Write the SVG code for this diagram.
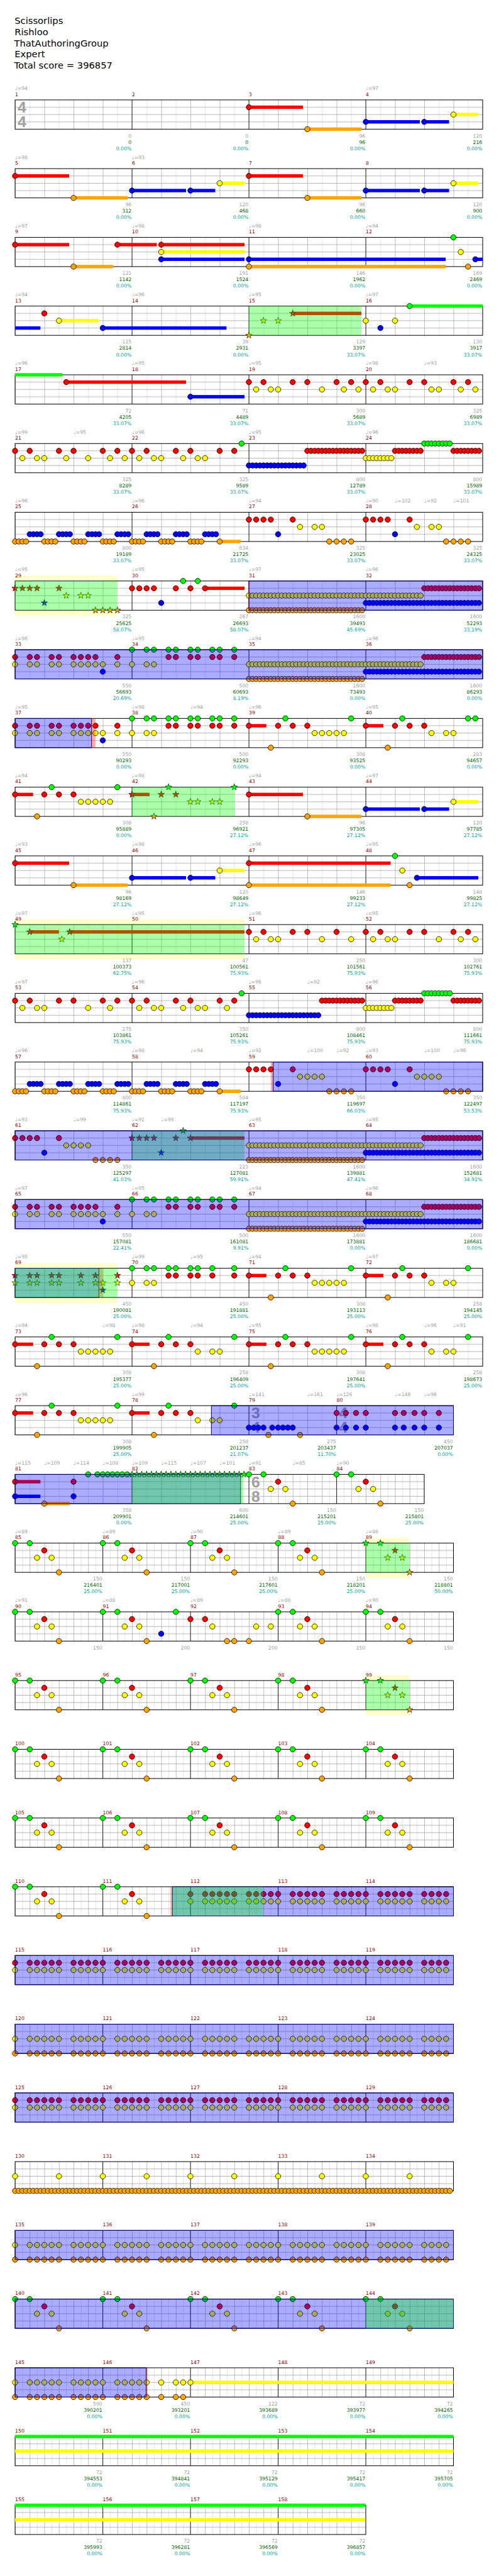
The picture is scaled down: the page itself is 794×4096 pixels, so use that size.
<svg xmlns="http://www.w3.org/2000/svg" width="794" height="4096" viewBox="0 0 794 4096">
<style>
text{font-family:"DejaVu Sans",sans-serif;font-size:10px}
.h{font-size:19px;fill:#000}
.t{fill:#a0a0a0}.m{fill:#8b0000}
.a{fill:#a0a0a0;text-anchor:end}.b{fill:#006400}.c{fill:#00a0a0}
.ts{font-family:"Liberation Sans",sans-serif;font-weight:bold;font-size:32px;fill:#a0a0a0}
.ml{stroke:#000;fill:none}.bd{fill:none;stroke:#000;stroke-width:1.3}
.gO{fill:#00ff00;fill-opacity:.33}
.bO{fill:#0000ff;fill-opacity:.33;stroke:#000070;stroke-width:1.3}
.pk{fill:#ff0000;fill-opacity:.33}
.yl{fill:#ffffcc}
</style>
<defs>
<pattern id="p4" width="60" height="60" patternUnits="userSpaceOnUse"><path d="M30.5 0V60" stroke="#dcdcdc"/><path d="M0 15H60M0 30H60M0 45H60M0.5 0V60" stroke="#a0a0a0"/></pattern>
<pattern id="p8" width="30" height="60" patternUnits="userSpaceOnUse"><path d="M15.5 0V60" stroke="#dcdcdc"/><path d="M0 15H30M0 30H30M0 45H30M0.5 0V60" stroke="#a0a0a0"/></pattern>
<rect id="M4" width="240" height="60" fill="url(#p4)"/>
<rect id="M3" width="180" height="60" fill="url(#p4)"/>
<rect id="M8" width="180" height="60" fill="url(#p8)"/>
<circle id="c" r="5.5" stroke="#000"/>
<use id="G" href="#c" fill="#00ff00"/>
<use id="R" href="#c" y="15" fill="#ff0000"/>
<use id="Y" href="#c" y="30" fill="#ffff00"/>
<use id="B" href="#c" y="45" fill="#0000ff"/>
<use id="O" href="#c" y="60" fill="#ffa500"/>
<polygon id="s" points="0,-7 1.65,-2.27 6.66,-2.16 2.66,0.87 4.11,5.66 0,2.8 -4.11,5.66 -2.66,0.87 -6.66,-2.16 -1.65,-2.27" stroke="#000" stroke-width=".8"/>
<use id="sG" href="#s" fill="#00ff00"/>
<use id="sR" href="#s" y="15" fill="#ff0000"/>
<use id="sY" href="#s" y="30" fill="#ffff00"/>
<use id="sB" href="#s" y="45" fill="#0000ff"/>
<use id="sO" href="#s" y="60" fill="#ffa500"/>
<g id="y4"><use href="#Y"/><use href="#Y" x="7.5"/><use href="#Y" x="15"/><use href="#Y" x="22.5"/></g>
<g id="r4"><use href="#R"/><use href="#R" x="7.5"/><use href="#R" x="15"/><use href="#R" x="22.5"/></g>
<g id="g4"><use href="#G"/><use href="#G" x="7.5"/><use href="#G" x="15"/><use href="#G" x="22.5"/></g>
<g id="b4"><use href="#B"/><use href="#B" x="7.5"/><use href="#B" x="15"/><use href="#B" x="22.5"/></g>
<g id="o4"><use href="#O"/><use href="#O" x="7.5"/><use href="#O" x="15"/><use href="#O" x="22.5"/></g>
<g id="y8"><use href="#y4"/><use href="#y4" x="30"/></g>
<g id="r8"><use href="#r4"/><use href="#r4" x="30"/></g>
<g id="g8"><use href="#g4"/><use href="#g4" x="30"/></g>
<g id="b8"><use href="#b4"/><use href="#b4" x="30"/></g>
<g id="o8"><use href="#o4"/><use href="#o4" x="30"/></g>
<g id="PA"><rect y="11.5" width="111" height="7" fill="#ff0000"/><rect x="120" y="56.5" width="111" height="7" fill="#ffa500"/><rect x="240" y="41.5" width="111" height="7" fill="#0000ff"/><rect x="360" y="41.5" width="51" height="7" fill="#0000ff"/><rect x="420" y="26.5" width="51" height="7" fill="#ffff00"/><use href="#R"/><use href="#O" x="120"/><use href="#B" x="240"/><use href="#B" x="360"/><use href="#Y" x="420"/></g>
<g id="P8"><use href="#G"/><use href="#G" x="30"/><use href="#Y" x="45"/><use href="#Y" x="75"/><use href="#R" x="60"/><use href="#O" x="90"/></g>
<g id="sP8"><use href="#sG"/><use href="#sG" x="30"/><use href="#sY" x="45"/><use href="#sY" x="75"/><use href="#sR" x="60"/><use href="#sO" x="90"/></g>
<g id="CH"><use href="#Y"/><use href="#Y" x="30"/><use href="#Y" x="45"/><use href="#Y" x="60"/><use href="#Y" x="75"/><use href="#Y" x="90"/><use href="#Y" x="120"/><use href="#Y" x="135"/><use href="#Y" x="150"/><use href="#Y" x="165"/><use href="#O"/><use href="#O" x="30"/><use href="#O" x="45"/><use href="#O" x="60"/><use href="#O" x="75"/><use href="#O" x="90"/><use href="#O" x="120"/><use href="#O" x="135"/><use href="#O" x="150"/><use href="#O" x="165"/></g>
<g id="CR"><use href="#R"/><use href="#R" x="30"/><use href="#R" x="45"/><use href="#R" x="60"/><use href="#R" x="75"/><use href="#R" x="90"/><use href="#R" x="120"/><use href="#R" x="135"/><use href="#R" x="150"/><use href="#R" x="165"/><use href="#Y"/><use href="#Y" x="30"/><use href="#Y" x="45"/><use href="#Y" x="60"/><use href="#Y" x="75"/><use href="#Y" x="90"/><use href="#Y" x="120"/><use href="#Y" x="135"/><use href="#Y" x="150"/><use href="#Y" x="165"/></g>
<g id="RUNS"><use href="#y8" x="511"/><use href="#y8" x="571"/><use href="#y8" x="631"/><use href="#y8" x="691"/><use href="#y8" x="751"/><use href="#y8" x="811"/><use href="#o8" x="511"/><use href="#o8" x="571"/><use href="#o8" x="631"/><use href="#o8" x="691"/><use href="#b8" x="751"/><use href="#b8" x="811"/><use href="#b8" x="871"/><use href="#b8" x="931"/><use href="#r8" x="871"/><use href="#r8" x="931"/></g>
<g id="P33"><use href="#R" x="31"/><use href="#R" x="61"/><use href="#R" x="76"/><use href="#R" x="106"/><use href="#R" x="121"/><use href="#R" x="151"/><use href="#R" x="166"/><use href="#R" x="181"/><use href="#R" x="196"/><use href="#R" x="241"/><use href="#R" x="346"/><use href="#R" x="361"/><use href="#R" x="391"/><use href="#R" x="406"/><use href="#R" x="436"/><use href="#R" x="451"/><use href="#R" x="481"/><use href="#Y" x="31"/><use href="#Y" x="61"/><use href="#Y" x="76"/><use href="#Y" x="106"/><use href="#Y" x="121"/><use href="#Y" x="151"/><use href="#Y" x="166"/><use href="#Y" x="181"/><use href="#Y" x="196"/><use href="#Y" x="211"/><use href="#Y" x="241"/><use href="#Y" x="271"/><use href="#Y" x="301"/><use href="#Y" x="316"/><use href="#B" x="211"/><use href="#G" x="271"/><use href="#G" x="301"/><use href="#G" x="316"/><use href="#G" x="346"/><use href="#G" x="361"/><use href="#G" x="391"/><use href="#G" x="406"/><use href="#G" x="436"/><use href="#G" x="451"/><use href="#G" x="481"/></g>
<g id="OB"><use href="#o4" x="31"/><use href="#o4" x="91"/><use href="#o4" x="151"/><use href="#o4" x="211"/><use href="#o4" x="271"/><use href="#o4" x="331"/><use href="#o4" x="391"/><use href="#b4" x="61"/><use href="#b4" x="121"/><use href="#b4" x="181"/><use href="#b4" x="241"/><use href="#b4" x="301"/><use href="#b4" x="361"/><use href="#b4" x="421"/><rect x="451" y="56.5" width="43" height="7" fill="#ffa500"/><use href="#O" x="451"/></g>
<g id="G44"><use href="#M4" x="31"/><use href="#M4" x="271"/><use href="#M4" x="511"/><use href="#M4" x="751"/><path class="ml" d="M271 0V60M511 0V60M751 0V60"/></g>
<g id="G88"><use href="#M8" x="31"/><use href="#M8" x="211"/><use href="#M8" x="391"/><use href="#M8" x="571"/><use href="#M8" x="751"/><path class="ml" d="M211 0V60M391 0V60M571 0V60M751 0V60"/></g>
</defs>
<rect width="794" height="4096" fill="#fff"/>
<g transform="scale(0.775)">
<g id="header">
<text class="h" x="30" y="49">Scissorlips</text>
<text class="h" x="30" y="72">Rishloo</text>
<text class="h" x="29" y="95">ThatAuthoringGroup</text>
<text class="h" x="30" y="118">Expert</text>
<text class="h" x="29" y="141">Total score = 396857</text>
</g>

<g id="row1" transform="translate(0,205)">
<use href="#G44"/><rect class="bd" x="31" width="960" height="60"/>
<text class="ts" x="36" y="26">4</text><text class="ts" x="36" y="56">4</text>
<use href="#PA" x="511"/>
<text class="t" x="31" y="-20">♩=94</text><text class="t" x="751" y="-20">♩=97</text>
<text class="m" x="31" y="-8">1</text><text class="m" x="271" y="-8">2</text><text class="m" x="511" y="-8">3</text><text class="m" x="751" y="-8">4</text>
<text class="a" x="270" y="77">0<tspan class="b" x="270" dy="13">0</tspan><tspan class="c" x="270" dy="13">0.00%</tspan></text>
<text class="a" x="510" y="77">0<tspan class="b" x="510" dy="13">0</tspan><tspan class="c" x="510" dy="13">0.00%</tspan></text>
<text class="a" x="750" y="77">96<tspan class="b" x="750" dy="13">96</tspan><tspan class="c" x="750" dy="13">0.00%</tspan></text>
<text class="a" x="990" y="77">120<tspan class="b" x="990" dy="13">216</tspan><tspan class="c" x="990" dy="13">0.00%</tspan></text>
</g>

<g id="row2" transform="translate(0,346)">
<use href="#G44"/><rect class="bd" x="31" width="960" height="60"/>
<use href="#PA" x="31"/><use href="#PA" x="511"/>
<text class="t" x="31" y="-20">♩=98</text><text class="t" x="271" y="-20">♩=93</text>
<text class="m" x="31" y="-8">5</text><text class="m" x="271" y="-8">6</text><text class="m" x="511" y="-8">7</text><text class="m" x="751" y="-8">8</text>
<text class="a" x="270" y="77">96<tspan class="b" x="270" dy="13">312</tspan><tspan class="c" x="270" dy="13">0.00%</tspan></text>
<text class="a" x="510" y="77">120<tspan class="b" x="510" dy="13">468</tspan><tspan class="c" x="510" dy="13">0.00%</tspan></text>
<text class="a" x="750" y="77">96<tspan class="b" x="750" dy="13">660</tspan><tspan class="c" x="750" dy="13">0.00%</tspan></text>
<text class="a" x="990" y="77">120<tspan class="b" x="990" dy="13">900</tspan><tspan class="c" x="990" dy="13">0.00%</tspan></text>
</g>

<g id="row3" transform="translate(0,487)">
<use href="#G44"/><rect class="bd" x="31" width="960" height="60"/>
<rect x="31" y="11.5" width="111" height="7" fill="#ff0000"/><rect x="151" y="56.5" width="81" height="7" fill="#ffa500"/><rect x="241" y="11.5" width="81" height="7" fill="#ff0000"/><rect x="331" y="11.5" width="171" height="7" fill="#ff0000"/><rect x="331" y="26.5" width="171" height="7" fill="#ffff00"/><rect x="331" y="41.5" width="171" height="7" fill="#0000ff"/><rect x="511" y="41.5" width="404" height="7" fill="#0000ff"/><rect x="511" y="56.5" width="404" height="7" fill="#ffa500"/><rect x="975" y="41.5" width="16" height="7" fill="#0000ff"/>
<use href="#R" x="31"/><use href="#O" x="151"/><use href="#R" x="241"/><use href="#R" x="331"/><use href="#Y" x="331"/><use href="#B" x="331"/><use href="#B" x="511"/><use href="#O" x="511"/><use href="#G" x="931"/><use href="#Y" x="946"/><use href="#O" x="961"/><use href="#B" x="976"/>
<text class="t" x="31" y="-20">♩=97</text><text class="t" x="271" y="-20">♩=98</text><text class="t" x="511" y="-20">♩=98</text><text class="t" x="751" y="-20">♩=94</text>
<text class="m" x="31" y="-8">9</text><text class="m" x="271" y="-8">10</text><text class="m" x="511" y="-8">11</text><text class="m" x="751" y="-8">12</text>
<text class="a" x="270" y="77">121<tspan class="b" x="270" dy="13">1142</tspan><tspan class="c" x="270" dy="13">0.00%</tspan></text>
<text class="a" x="510" y="77">191<tspan class="b" x="510" dy="13">1524</tspan><tspan class="c" x="510" dy="13">0.00%</tspan></text>
<text class="a" x="750" y="77">146<tspan class="b" x="750" dy="13">1962</tspan><tspan class="c" x="750" dy="13">0.00%</tspan></text>
<text class="a" x="990" y="77">169<tspan class="b" x="990" dy="13">2469</tspan><tspan class="c" x="990" dy="13">0.00%</tspan></text>
</g>

<g id="row4" transform="translate(0,628)">
<use href="#G44"/><rect class="bd" x="31" width="960" height="60"/>
<rect x="31" y="41.5" width="52" height="7" fill="#0000ff"/><rect x="121" y="26.5" width="82" height="7" fill="#ffff00"/><rect x="211" y="41.5" width="254" height="7" fill="#0000ff"/><rect x="601" y="11.5" width="141" height="7" fill="#ff0000"/><rect x="841" y="-3.5" width="150" height="7" fill="#00ff00"/>
<use href="#R" x="91"/><use href="#Y" x="121"/><use href="#B" x="211"/><use href="#sO" x="511"/><use href="#sY" x="541"/><use href="#sY" x="571"/><use href="#sR" x="601"/><use href="#Y" x="751"/><use href="#B" x="781"/><use href="#Y" x="811"/><use href="#G" x="841"/>
<rect class="gO" x="511" width="231" height="60"/>
<text class="t" x="31" y="-20">♩=94</text><text class="t" x="271" y="-20">♩=96</text><text class="t" x="511" y="-20">♩=95</text><text class="t" x="751" y="-20">♩=97</text>
<text class="m" x="31" y="-8">13</text><text class="m" x="271" y="-8">14</text><text class="m" x="511" y="-8">15</text><text class="m" x="751" y="-8">16</text>
<text class="a" x="270" y="77">115<tspan class="b" x="270" dy="13">2814</tspan><tspan class="c" x="270" dy="13">0.00%</tspan></text>
<text class="a" x="510" y="77">39<tspan class="b" x="510" dy="13">2931</tspan><tspan class="c" x="510" dy="13">0.00%</tspan></text>
<text class="a" x="750" y="77">129<tspan class="b" x="750" dy="13">3397</tspan><tspan class="c" x="750" dy="13">33.07%</tspan></text>
<text class="a" x="990" y="77">130<tspan class="b" x="990" dy="13">3917</tspan><tspan class="c" x="990" dy="13">33.07%</tspan></text>
</g>

<g id="row5" transform="translate(0,769)">
<use href="#G44"/><rect class="bd" x="31" width="960" height="60"/>
<rect x="31" y="-3.5" width="97" height="7" fill="#00ff00"/><rect x="136" y="11.5" width="246" height="7" fill="#ff0000"/><rect x="391" y="41.5" width="111" height="7" fill="#0000ff"/>
<use href="#R" x="136"/><use href="#B" x="391"/>
<use href="#R" x="511"/><use href="#R" x="541"/><use href="#R" x="601"/><use href="#R" x="631"/><use href="#R" x="691"/><use href="#R" x="721"/><use href="#R" x="751"/><use href="#R" x="781"/><use href="#R" x="841"/><use href="#R" x="871"/><use href="#R" x="931"/><use href="#R" x="961"/>
<use href="#Y" x="526"/><use href="#Y" x="556"/><use href="#Y" x="571"/><use href="#Y" x="661"/><use href="#Y" x="706"/><use href="#Y" x="736"/><use href="#Y" x="766"/><use href="#Y" x="796"/><use href="#Y" x="811"/><use href="#Y" x="886"/><use href="#Y" x="901"/><use href="#Y" x="946"/><use href="#Y" x="976"/>
<text class="t" x="31" y="-20">♩=96</text><text class="t" x="271" y="-20">♩=95</text><text class="t" x="511" y="-20">♩=95</text><text class="t" x="751" y="-20">♩=98</text><text class="t" x="871" y="-20">♩=93</text>
<text class="m" x="31" y="-8">17</text><text class="m" x="271" y="-8">18</text><text class="m" x="511" y="-8">19</text><text class="m" x="751" y="-8">20</text>
<text class="a" x="270" y="77">72<tspan class="b" x="270" dy="13">4205</tspan><tspan class="c" x="270" dy="13">33.07%</tspan></text>
<text class="a" x="510" y="77">71<tspan class="b" x="510" dy="13">4489</tspan><tspan class="c" x="510" dy="13">33.07%</tspan></text>
<text class="a" x="750" y="77">300<tspan class="b" x="750" dy="13">5689</tspan><tspan class="c" x="750" dy="13">33.07%</tspan></text>
<text class="a" x="990" y="77">325<tspan class="b" x="990" dy="13">6989</tspan><tspan class="c" x="990" dy="13">33.07%</tspan></text>
</g>

<g id="row6" transform="translate(0,910)">
<use href="#G44"/><rect class="bd" x="31" width="960" height="60"/>
<use href="#R" x="31"/><use href="#R" x="61"/><use href="#R" x="121"/><use href="#R" x="151"/><use href="#R" x="211"/><use href="#R" x="241"/><use href="#R" x="271"/><use href="#R" x="301"/><use href="#R" x="361"/><use href="#R" x="391"/><use href="#R" x="451"/><use href="#R" x="481"/>
<use href="#Y" x="46"/><use href="#Y" x="76"/><use href="#Y" x="91"/><use href="#Y" x="136"/><use href="#Y" x="181"/><use href="#Y" x="226"/><use href="#Y" x="256"/><use href="#Y" x="286"/><use href="#Y" x="316"/><use href="#Y" x="331"/><use href="#Y" x="376"/><use href="#Y" x="406"/><use href="#Y" x="421"/><use href="#G" x="496"/>
<use href="#b8" x="511"/><use href="#b8" x="571"/><use href="#r8" x="631"/><use href="#r8" x="691"/><use href="#y8" x="751"/><use href="#r8" x="811"/><use href="#g8" x="871"/><use href="#r8" x="931"/>
<text class="t" x="31" y="-20">♩=99</text><text class="t" x="151" y="-20">♩=95</text><text class="t" x="271" y="-20">♩=96</text><text class="t" x="511" y="-20">♩=95</text><text class="t" x="751" y="-20">♩=96</text>
<text class="m" x="31" y="-8">21</text><text class="m" x="271" y="-8">22</text><text class="m" x="511" y="-8">23</text><text class="m" x="751" y="-8">24</text>
<text class="a" x="270" y="77">325<tspan class="b" x="270" dy="13">8289</tspan><tspan class="c" x="270" dy="13">33.07%</tspan></text>
<text class="a" x="510" y="77">325<tspan class="b" x="510" dy="13">9589</tspan><tspan class="c" x="510" dy="13">33.07%</tspan></text>
<text class="a" x="750" y="77">800<tspan class="b" x="750" dy="13">12789</tspan><tspan class="c" x="750" dy="13">33.07%</tspan></text>
<text class="a" x="990" y="77">800<tspan class="b" x="990" dy="13">15989</tspan><tspan class="c" x="990" dy="13">33.07%</tspan></text>
</g>

<g id="row7" transform="translate(0,1051)">
<use href="#G44"/><rect class="bd" x="31" width="960" height="60"/>
<use href="#OB"/>
<use href="#R" x="511"/><use href="#R" x="526"/><use href="#R" x="541"/><use href="#R" x="556"/><use href="#R" x="601"/><use href="#B" x="571"/><use href="#Y" x="616"/><use href="#Y" x="646"/><use href="#Y" x="661"/><use href="#O" x="676"/><use href="#O" x="691"/><use href="#O" x="706"/><use href="#O" x="721"/>
<use href="#R" x="751"/><use href="#R" x="766"/><use href="#R" x="781"/><use href="#R" x="796"/><use href="#R" x="841"/><use href="#B" x="811"/><use href="#Y" x="856"/><use href="#Y" x="886"/><use href="#Y" x="901"/><use href="#O" x="916"/><use href="#O" x="931"/><use href="#O" x="946"/><use href="#O" x="961"/>
<text class="t" x="31" y="-20">♩=96</text><text class="t" x="271" y="-20">♩=96</text><text class="t" x="511" y="-20">♩=94</text><text class="t" x="751" y="-20">♩=90</text><text class="t" x="811" y="-20">♩=102</text><text class="t" x="871" y="-20">♩=92</text><text class="t" x="931" y="-20">♩=101</text>
<text class="m" x="31" y="-8">25</text><text class="m" x="271" y="-8">26</text><text class="m" x="511" y="-8">27</text><text class="m" x="751" y="-8">28</text>
<text class="a" x="270" y="77">800<tspan class="b" x="270" dy="13">19189</tspan><tspan class="c" x="270" dy="13">33.07%</tspan></text>
<text class="a" x="510" y="77">634<tspan class="b" x="510" dy="13">21725</tspan><tspan class="c" x="510" dy="13">33.07%</tspan></text>
<text class="a" x="750" y="77">325<tspan class="b" x="750" dy="13">23025</tspan><tspan class="c" x="750" dy="13">33.07%</tspan></text>
<text class="a" x="990" y="77">325<tspan class="b" x="990" dy="13">24325</tspan><tspan class="c" x="990" dy="13">33.07%</tspan></text>
</g>

<g id="row8" transform="translate(0,1192)">
<rect class="yl" x="31" y="-11" width="210" height="11"/><rect class="yl" x="31" y="61" width="210" height="11"/>
<use href="#G44"/><rect class="bd" x="31" width="960" height="60"/>
<use href="#sR" x="31"/><use href="#sR" x="46"/><use href="#sR" x="61"/><use href="#sR" x="76"/><use href="#sR" x="121"/><use href="#sB" x="91"/><use href="#sY" x="136"/><use href="#sY" x="166"/><use href="#sY" x="181"/><use href="#sO" x="196"/><use href="#sO" x="211"/><use href="#sO" x="226"/><use href="#sO" x="241"/>
<rect class="gO" x="31" width="210" height="60"/>
<rect x="421" y="11.5" width="81" height="7" fill="#ff0000"/>
<use href="#R" x="271"/><use href="#R" x="286"/><use href="#R" x="301"/><use href="#R" x="316"/><use href="#R" x="361"/><use href="#R" x="391"/><use href="#R" x="421"/><use href="#G" x="376"/><use href="#G" x="406"/><use href="#B" x="331"/>
<use href="#RUNS"/>
<rect class="bO" x="511" width="480" height="60"/><rect class="pk" x="510" width="2.5" height="60"/>
<text class="t" x="31" y="-20">♩=95</text><text class="t" x="271" y="-20">♩=95</text><text class="t" x="511" y="-20">♩=97</text><text class="t" x="751" y="-20">♩=96</text>
<text class="m" x="31" y="-8">29</text><text class="m" x="271" y="-8">30</text><text class="m" x="511" y="-8">31</text><text class="m" x="751" y="-8">32</text>
<text class="a" x="270" y="77">325<tspan class="b" x="270" dy="13">25625</tspan><tspan class="c" x="270" dy="13">58.07%</tspan></text>
<text class="a" x="510" y="77">267<tspan class="b" x="510" dy="13">26693</tspan><tspan class="c" x="510" dy="13">58.07%</tspan></text>
<text class="a" x="750" y="77">1600<tspan class="b" x="750" dy="13">39493</tspan><tspan class="c" x="750" dy="13">45.69%</tspan></text>
<text class="a" x="990" y="77">1600<tspan class="b" x="990" dy="13">52293</tspan><tspan class="c" x="990" dy="13">33.19%</tspan></text>
</g>

<g id="row9" transform="translate(0,1333)">
<use href="#G44"/><rect class="bd" x="31" width="960" height="60"/>
<use href="#P33"/><use href="#RUNS"/>
<rect class="bO" x="31" width="960" height="60"/>
<text class="t" x="31" y="-20">♩=96</text><text class="t" x="271" y="-20">♩=95</text><text class="t" x="511" y="-20">♩=94</text><text class="t" x="751" y="-20">♩=96</text>
<text class="m" x="31" y="-8">33</text><text class="m" x="271" y="-8">34</text><text class="m" x="511" y="-8">35</text><text class="m" x="751" y="-8">36</text>
<text class="a" x="270" y="77">550<tspan class="b" x="270" dy="13">56693</tspan><tspan class="c" x="270" dy="13">20.69%</tspan></text>
<text class="a" x="510" y="77">500<tspan class="b" x="510" dy="13">60693</tspan><tspan class="c" x="510" dy="13">8.19%</tspan></text>
<text class="a" x="750" y="77">1600<tspan class="b" x="750" dy="13">73493</tspan><tspan class="c" x="750" dy="13">0.00%</tspan></text>
<text class="a" x="990" y="77">1600<tspan class="b" x="990" dy="13">86293</tspan><tspan class="c" x="990" dy="13">0.00%</tspan></text>
</g>

<g id="row10" transform="translate(0,1474)">
<use href="#G44"/><rect class="bd" x="31" width="960" height="60"/>
<use href="#P33"/>
<rect x="511" y="11.5" width="36" height="7" fill="#ff0000"/><rect x="751" y="11.5" width="36" height="7" fill="#ff0000"/>
<use href="#R" x="511"/><use href="#O" x="556"/><use href="#R" x="571"/><use href="#R" x="601"/><use href="#R" x="631"/><use href="#G" x="586"/><use href="#Y" x="646"/><use href="#Y" x="661"/><use href="#Y" x="676"/><use href="#Y" x="691"/><use href="#Y" x="706"/><use href="#G" x="721"/>
<use href="#R" x="751"/><use href="#O" x="796"/><use href="#R" x="811"/><use href="#R" x="841"/><use href="#R" x="871"/><use href="#G" x="826"/><use href="#Y" x="886"/><use href="#Y" x="916"/><use href="#Y" x="931"/><use href="#G" x="961"/><use href="#G" x="976"/>
<rect class="bO" x="31" width="157" height="60"/><rect class="pk" x="188" width="8" height="60"/>
<text class="t" x="31" y="-20">♩=95</text><text class="t" x="271" y="-20">♩=98</text><text class="t" x="391" y="-20">♩=94</text><text class="t" x="511" y="-20">♩=96</text><text class="t" x="751" y="-20">♩=95</text>
<text class="m" x="31" y="-8">37</text><text class="m" x="271" y="-8">38</text><text class="m" x="511" y="-8">39</text><text class="m" x="751" y="-8">40</text>
<text class="a" x="270" y="77">550<tspan class="b" x="270" dy="13">90293</tspan><tspan class="c" x="270" dy="13">0.00%</tspan></text>
<text class="a" x="510" y="77">500<tspan class="b" x="510" dy="13">92293</tspan><tspan class="c" x="510" dy="13">0.00%</tspan></text>
<text class="a" x="750" y="77">308<tspan class="b" x="750" dy="13">93525</tspan><tspan class="c" x="750" dy="13">0.00%</tspan></text>
<text class="a" x="990" y="77">283<tspan class="b" x="990" dy="13">94657</tspan><tspan class="c" x="990" dy="13">0.00%</tspan></text>
</g>

<g id="row11" transform="translate(0,1615)">
<use href="#G44"/><rect class="bd" x="31" width="960" height="60"/>
<rect x="31" y="11.5" width="37" height="7" fill="#ff0000"/>
<use href="#R" x="31"/><use href="#O" x="76"/><use href="#R" x="91"/><use href="#R" x="121"/><use href="#R" x="151"/><use href="#G" x="106"/><use href="#Y" x="166"/><use href="#Y" x="181"/><use href="#Y" x="196"/><use href="#Y" x="211"/><use href="#Y" x="226"/><use href="#G" x="241"/>
<rect x="271" y="11.5" width="36" height="7" fill="#ff0000"/>
<use href="#sR" x="271"/><use href="#sO" x="316"/><use href="#sR" x="331"/><use href="#sR" x="361"/><use href="#sG" x="346"/><use href="#sY" x="391"/><use href="#sY" x="406"/><use href="#sY" x="436"/><use href="#sY" x="451"/><use href="#sG" x="481"/>
<rect class="gO" x="271" width="211" height="60"/>
<use href="#PA" x="511"/>
<text class="t" x="31" y="-20">♩=94</text><text class="t" x="271" y="-20">♩=98</text><text class="t" x="511" y="-20">♩=94</text><text class="t" x="751" y="-20">♩=97</text>
<text class="m" x="31" y="-8">41</text><text class="m" x="271" y="-8">42</text><text class="m" x="511" y="-8">43</text><text class="m" x="751" y="-8">44</text>
<text class="a" x="270" y="77">308<tspan class="b" x="270" dy="13">95889</tspan><tspan class="c" x="270" dy="13">0.00%</tspan></text>
<text class="a" x="510" y="77">258<tspan class="b" x="510" dy="13">96921</tspan><tspan class="c" x="510" dy="13">27.12%</tspan></text>
<text class="a" x="750" y="77">96<tspan class="b" x="750" dy="13">97305</tspan><tspan class="c" x="750" dy="13">27.12%</tspan></text>
<text class="a" x="990" y="77">120<tspan class="b" x="990" dy="13">97785</tspan><tspan class="c" x="990" dy="13">27.12%</tspan></text>
</g>

<g id="row12" transform="translate(0,1756)">
<use href="#G44"/><rect class="bd" x="31" width="960" height="60"/>
<use href="#PA" x="31"/>
<rect x="511" y="11.5" width="291" height="7" fill="#ff0000"/><rect x="511" y="56.5" width="291" height="7" fill="#ffa500"/><rect x="856" y="41.5" width="126" height="7" fill="#0000ff"/>
<use href="#R" x="511"/><use href="#O" x="511"/><use href="#G" x="811"/><use href="#Y" x="826"/><use href="#O" x="841"/><use href="#B" x="856"/>
<text class="t" x="31" y="-20">♩=93</text><text class="t" x="271" y="-20">♩=98</text><text class="t" x="511" y="-20">♩=96</text><text class="t" x="751" y="-20">♩=95</text>
<text class="m" x="31" y="-8">45</text><text class="m" x="271" y="-8">46</text><text class="m" x="511" y="-8">47</text><text class="m" x="751" y="-8">48</text>
<text class="a" x="270" y="77">96<tspan class="b" x="270" dy="13">98169</tspan><tspan class="c" x="270" dy="13">27.12%</tspan></text>
<text class="a" x="510" y="77">120<tspan class="b" x="510" dy="13">98649</tspan><tspan class="c" x="510" dy="13">27.12%</tspan></text>
<text class="a" x="750" y="77">146<tspan class="b" x="750" dy="13">99233</tspan><tspan class="c" x="750" dy="13">27.12%</tspan></text>
<text class="a" x="990" y="77">148<tspan class="b" x="990" dy="13">99825</tspan><tspan class="c" x="990" dy="13">27.12%</tspan></text>
</g>

<g id="row13" transform="translate(0,1897)">
<rect class="yl" x="31" y="-11" width="471" height="11"/><rect class="yl" x="31" y="61" width="471" height="11"/>
<use href="#G44"/><rect class="bd" x="31" width="960" height="60"/>
<rect x="61" y="11.5" width="60" height="7" fill="#ff0000"/><rect x="143" y="11.5" width="359" height="7" fill="#ff0000"/>
<use href="#sG" x="31"/><use href="#sR" x="61"/><use href="#sY" x="127"/><use href="#sR" x="143"/>
<rect class="gO" x="31" width="471" height="60"/>
<use href="#R" x="511"/><use href="#R" x="541"/><use href="#R" x="601"/><use href="#R" x="631"/><use href="#R" x="691"/><use href="#R" x="751"/><use href="#R" x="781"/><use href="#R" x="841"/><use href="#R" x="871"/><use href="#R" x="931"/><use href="#R" x="961"/>
<use href="#Y" x="526"/><use href="#Y" x="556"/><use href="#Y" x="571"/><use href="#Y" x="661"/><use href="#Y" x="721"/><use href="#Y" x="766"/><use href="#Y" x="796"/><use href="#Y" x="811"/><use href="#Y" x="901"/><use href="#Y" x="946"/><use href="#Y" x="976"/>
<text class="t" x="31" y="-20">♩=97</text><text class="t" x="271" y="-20">♩=95</text><text class="t" x="511" y="-20">♩=96</text><text class="t" x="751" y="-20">♩=95</text>
<text class="m" x="31" y="-8">49</text><text class="m" x="271" y="-8">50</text><text class="m" x="511" y="-8">51</text><text class="m" x="751" y="-8">52</text>
<text class="a" x="270" y="77">137<tspan class="b" x="270" dy="13">100373</tspan><tspan class="c" x="270" dy="13">62.75%</tspan></text>
<text class="a" x="510" y="77">47<tspan class="b" x="510" dy="13">100561</tspan><tspan class="c" x="510" dy="13">75.93%</tspan></text>
<text class="a" x="750" y="77">250<tspan class="b" x="750" dy="13">101561</tspan><tspan class="c" x="750" dy="13">75.93%</tspan></text>
<text class="a" x="990" y="77">300<tspan class="b" x="990" dy="13">102761</tspan><tspan class="c" x="990" dy="13">75.93%</tspan></text>
</g>

<g id="row14" transform="translate(0,2038)">
<use href="#G44"/><rect class="bd" x="31" width="960" height="60"/>
<use href="#R" x="31"/><use href="#R" x="61"/><use href="#R" x="121"/><use href="#R" x="151"/><use href="#R" x="211"/><use href="#R" x="241"/><use href="#R" x="271"/><use href="#R" x="301"/><use href="#R" x="361"/><use href="#R" x="391"/><use href="#R" x="451"/><use href="#R" x="481"/>
<use href="#Y" x="46"/><use href="#Y" x="76"/><use href="#Y" x="91"/><use href="#Y" x="181"/><use href="#Y" x="226"/><use href="#Y" x="286"/><use href="#Y" x="316"/><use href="#Y" x="331"/><use href="#Y" x="376"/><use href="#Y" x="406"/><use href="#Y" x="421"/><use href="#Y" x="466"/><use href="#G" x="496"/>
<use href="#b8" x="511"/><use href="#b8" x="571"/><use href="#b4" x="631"/><use href="#r8" x="661"/><use href="#r4" x="721"/><use href="#y8" x="751"/><use href="#r8" x="811"/><use href="#g8" x="871"/><use href="#r8" x="931"/>
<text class="t" x="31" y="-20">♩=97</text><text class="t" x="271" y="-20">♩=96</text><text class="t" x="511" y="-20">♩=96</text><text class="t" x="631" y="-20">♩=92</text><text class="t" x="751" y="-20">♩=96</text>
<text class="m" x="31" y="-8">53</text><text class="m" x="271" y="-8">54</text><text class="m" x="511" y="-8">55</text><text class="m" x="751" y="-8">56</text>
<text class="a" x="270" y="77">275<tspan class="b" x="270" dy="13">103861</tspan><tspan class="c" x="270" dy="13">75.93%</tspan></text>
<text class="a" x="510" y="77">350<tspan class="b" x="510" dy="13">105261</tspan><tspan class="c" x="510" dy="13">75.93%</tspan></text>
<text class="a" x="750" y="77">800<tspan class="b" x="750" dy="13">108461</tspan><tspan class="c" x="750" dy="13">75.93%</tspan></text>
<text class="a" x="990" y="77">800<tspan class="b" x="990" dy="13">111661</tspan><tspan class="c" x="990" dy="13">75.93%</tspan></text>
</g>

<g id="row15" transform="translate(0,2179)">
<use href="#G44"/><rect class="bd" x="31" width="960" height="60"/>
<use href="#OB"/>
<use href="#R" x="511"/><use href="#R" x="526"/><use href="#R" x="541"/><use href="#R" x="556"/><use href="#R" x="601"/><use href="#B" x="571"/><use href="#Y" x="616"/><use href="#Y" x="631"/><use href="#Y" x="646"/><use href="#Y" x="661"/><use href="#O" x="676"/><use href="#O" x="691"/><use href="#O" x="706"/><use href="#O" x="721"/>
<use href="#R" x="751"/><use href="#R" x="766"/><use href="#R" x="781"/><use href="#R" x="796"/><use href="#R" x="841"/><use href="#B" x="811"/><use href="#Y" x="856"/><use href="#Y" x="871"/><use href="#Y" x="886"/><use href="#Y" x="901"/><use href="#O" x="916"/><use href="#O" x="931"/><use href="#O" x="946"/><use href="#O" x="961"/>
<rect class="pk" x="556" width="5" height="60"/><rect class="bO" x="561" width="430" height="60"/>
<text class="t" x="31" y="-20">♩=96</text><text class="t" x="271" y="-20">♩=98</text><text class="t" x="391" y="-20">♩=94</text><text class="t" x="511" y="-20">♩=92</text><text class="t" x="631" y="-20">♩=100</text><text class="t" x="691" y="-20">♩=92</text><text class="t" x="751" y="-20">♩=93</text><text class="t" x="871" y="-20">♩=100</text><text class="t" x="931" y="-20">♩=96</text>
<text class="m" x="31" y="-8">57</text><text class="m" x="271" y="-8">58</text><text class="m" x="511" y="-8">59</text><text class="m" x="751" y="-8">60</text>
<text class="a" x="270" y="77">800<tspan class="b" x="270" dy="13">114861</tspan><tspan class="c" x="270" dy="13">75.93%</tspan></text>
<text class="a" x="510" y="77">584<tspan class="b" x="510" dy="13">117197</tspan><tspan class="c" x="510" dy="13">75.93%</tspan></text>
<text class="a" x="750" y="77">350<tspan class="b" x="750" dy="13">119697</tspan><tspan class="c" x="750" dy="13">66.03%</tspan></text>
<text class="a" x="990" y="77">350<tspan class="b" x="990" dy="13">122497</tspan><tspan class="c" x="990" dy="13">53.53%</tspan></text>
</g>

<g id="row16" transform="translate(0,2320)">
<use href="#G44"/><rect class="bd" x="31" width="960" height="60"/>
<use href="#R" x="31"/><use href="#R" x="46"/><use href="#R" x="61"/><use href="#R" x="76"/><use href="#R" x="121"/><use href="#B" x="91"/><use href="#Y" x="136"/><use href="#Y" x="151"/><use href="#Y" x="166"/><use href="#Y" x="181"/><use href="#O" x="196"/><use href="#O" x="211"/><use href="#O" x="226"/><use href="#O" x="241"/>
<rect x="391" y="11.5" width="111" height="7" fill="#ff0000"/>
<use href="#sR" x="271"/><use href="#sR" x="286"/><use href="#sR" x="301"/><use href="#sR" x="316"/><use href="#sR" x="361"/><use href="#sR" x="391"/><use href="#sG" x="376"/><use href="#sB" x="331"/>
<use href="#RUNS"/>
<rect class="gO" x="271" width="231" height="60"/>
<rect class="bO" x="31" width="960" height="60"/>
<text class="t" x="31" y="-20">♩=93</text><text class="t" x="151" y="-20">♩=99</text><text class="t" x="271" y="-20">♩=91</text><text class="t" x="331" y="-20">♩=99</text><text class="t" x="511" y="-20">♩=95</text><text class="t" x="751" y="-20">♩=95</text>
<text class="m" x="31" y="-8">61</text><text class="m" x="271" y="-8">62</text><text class="m" x="511" y="-8">63</text><text class="m" x="751" y="-8">64</text>
<text class="a" x="270" y="77">350<tspan class="b" x="270" dy="13">125297</tspan><tspan class="c" x="270" dy="13">41.03%</tspan></text>
<text class="a" x="510" y="77">223<tspan class="b" x="510" dy="13">127081</tspan><tspan class="c" x="510" dy="13">59.91%</tspan></text>
<text class="a" x="750" y="77">1600<tspan class="b" x="750" dy="13">139881</tspan><tspan class="c" x="750" dy="13">47.41%</tspan></text>
<text class="a" x="990" y="77">1600<tspan class="b" x="990" dy="13">152681</tspan><tspan class="c" x="990" dy="13">34.91%</tspan></text>
</g>

<g id="row17" transform="translate(0,2461)">
<use href="#G44"/><rect class="bd" x="31" width="960" height="60"/>
<use href="#P33"/><use href="#RUNS"/>
<rect class="bO" x="31" width="960" height="60"/>
<text class="t" x="31" y="-20">♩=97</text><text class="t" x="271" y="-20">♩=95</text><text class="t" x="511" y="-20">♩=94</text><text class="t" x="751" y="-20">♩=96</text>
<text class="m" x="31" y="-8">65</text><text class="m" x="271" y="-8">66</text><text class="m" x="511" y="-8">67</text><text class="m" x="751" y="-8">68</text>
<text class="a" x="270" y="77">550<tspan class="b" x="270" dy="13">157081</tspan><tspan class="c" x="270" dy="13">22.41%</tspan></text>
<text class="a" x="510" y="77">500<tspan class="b" x="510" dy="13">161081</tspan><tspan class="c" x="510" dy="13">9.91%</tspan></text>
<text class="a" x="750" y="77">1600<tspan class="b" x="750" dy="13">173881</tspan><tspan class="c" x="750" dy="13">0.00%</tspan></text>
<text class="a" x="990" y="77">1600<tspan class="b" x="990" dy="13">186681</tspan><tspan class="c" x="990" dy="13">0.00%</tspan></text>
</g>

<g id="row18" transform="translate(0,2602)">
<rect class="yl" x="31" y="-11" width="210" height="11"/><rect class="yl" x="31" y="61" width="210" height="11"/>
<use href="#G44"/><rect class="bd" x="31" width="960" height="60"/>
<use href="#sR" x="31"/><use href="#sR" x="61"/><use href="#sR" x="76"/><use href="#sR" x="106"/><use href="#sR" x="121"/><use href="#sR" x="166"/><use href="#sR" x="196"/><use href="#sR" x="241"/>
<use href="#sY" x="31"/><use href="#sY" x="61"/><use href="#sY" x="76"/><use href="#sY" x="106"/><use href="#sY" x="121"/><use href="#sY" x="166"/><use href="#sY" x="196"/><use href="#sY" x="211"/><use href="#sY" x="241"/><use href="#sB" x="211"/>
<rect class="bO" x="31" width="172" height="60"/><rect class="pk" x="203" width="8" height="60"/><rect class="gO" x="31" width="210" height="60"/>
<use href="#G" x="271"/><use href="#G" x="301"/><use href="#G" x="316"/><use href="#G" x="346"/><use href="#G" x="361"/><use href="#G" x="391"/><use href="#G" x="406"/><use href="#G" x="436"/><use href="#G" x="481"/>
<use href="#R" x="346"/><use href="#R" x="361"/><use href="#R" x="391"/><use href="#R" x="406"/><use href="#R" x="436"/><use href="#R" x="481"/><use href="#Y" x="271"/><use href="#Y" x="301"/><use href="#Y" x="316"/>
<rect x="511" y="11.5" width="36" height="7" fill="#ff0000"/><rect x="751" y="11.5" width="36" height="7" fill="#ff0000"/>
<use href="#R" x="511"/><use href="#O" x="556"/><use href="#R" x="571"/><use href="#R" x="601"/><use href="#R" x="631"/><use href="#G" x="586"/><use href="#Y" x="646"/><use href="#Y" x="661"/><use href="#Y" x="676"/><use href="#Y" x="691"/><use href="#Y" x="706"/><use href="#G" x="721"/>
<use href="#R" x="751"/><use href="#O" x="796"/><use href="#R" x="811"/><use href="#R" x="841"/><use href="#R" x="871"/><use href="#G" x="826"/><use href="#Y" x="886"/><use href="#Y" x="916"/><use href="#Y" x="931"/><use href="#G" x="961"/>
<text class="t" x="31" y="-20">♩=95</text><text class="t" x="271" y="-20">♩=99</text><text class="t" x="391" y="-20">♩=95</text><text class="t" x="511" y="-20">♩=94</text><text class="t" x="751" y="-20">♩=97</text>
<text class="m" x="31" y="-8">69</text><text class="m" x="271" y="-8">70</text><text class="m" x="511" y="-8">71</text><text class="m" x="751" y="-8">72</text>
<text class="a" x="270" y="77">450<tspan class="b" x="270" dy="13">190081</tspan><tspan class="c" x="270" dy="13">25.00%</tspan></text>
<text class="a" x="510" y="77">450<tspan class="b" x="510" dy="13">191881</tspan><tspan class="c" x="510" dy="13">25.00%</tspan></text>
<text class="a" x="750" y="77">308<tspan class="b" x="750" dy="13">193113</tspan><tspan class="c" x="750" dy="13">25.00%</tspan></text>
<text class="a" x="990" y="77">258<tspan class="b" x="990" dy="13">194145</tspan><tspan class="c" x="990" dy="13">25.00%</tspan></text>
</g>

<g id="row19" transform="translate(0,2743)">
<use href="#G44"/><rect class="bd" x="31" width="960" height="60"/>
<rect x="31" y="11.5" width="37" height="7" fill="#ff0000"/><rect x="271" y="11.5" width="36" height="7" fill="#ff0000"/><rect x="511" y="11.5" width="36" height="7" fill="#ff0000"/><rect x="751" y="11.5" width="36" height="7" fill="#ff0000"/>
<use href="#R" x="31"/><use href="#O" x="76"/><use href="#R" x="91"/><use href="#R" x="121"/><use href="#R" x="151"/><use href="#G" x="106"/><use href="#Y" x="166"/><use href="#Y" x="181"/><use href="#Y" x="196"/><use href="#Y" x="211"/><use href="#Y" x="226"/><use href="#G" x="241"/>
<use href="#R" x="271"/><use href="#O" x="316"/><use href="#R" x="331"/><use href="#R" x="361"/><use href="#R" x="391"/><use href="#G" x="346"/><use href="#Y" x="406"/><use href="#Y" x="436"/><use href="#Y" x="451"/><use href="#G" x="481"/>
<use href="#R" x="511"/><use href="#O" x="556"/><use href="#R" x="571"/><use href="#R" x="601"/><use href="#R" x="631"/><use href="#G" x="586"/><use href="#Y" x="646"/><use href="#Y" x="661"/><use href="#Y" x="676"/><use href="#Y" x="691"/><use href="#Y" x="706"/><use href="#G" x="721"/>
<use href="#R" x="751"/><use href="#O" x="796"/><use href="#R" x="811"/><use href="#R" x="841"/><use href="#R" x="871"/><use href="#G" x="826"/><use href="#Y" x="886"/><use href="#Y" x="916"/><use href="#Y" x="931"/><use href="#G" x="961"/>
<text class="t" x="31" y="-20">♩=94</text><text class="t" x="211" y="-20">♩=98</text><text class="t" x="271" y="-20">♩=98</text><text class="t" x="391" y="-20">♩=94</text><text class="t" x="511" y="-20">♩=95</text><text class="t" x="751" y="-20">♩=98</text><text class="t" x="871" y="-20">♩=96</text><text class="t" x="931" y="-20">♩=91</text>
<text class="m" x="31" y="-8">73</text><text class="m" x="271" y="-8">74</text><text class="m" x="511" y="-8">75</text><text class="m" x="751" y="-8">76</text>
<text class="a" x="270" y="77">308<tspan class="b" x="270" dy="13">195377</tspan><tspan class="c" x="270" dy="13">25.00%</tspan></text>
<text class="a" x="510" y="77">258<tspan class="b" x="510" dy="13">196409</tspan><tspan class="c" x="510" dy="13">25.00%</tspan></text>
<text class="a" x="750" y="77">308<tspan class="b" x="750" dy="13">197641</tspan><tspan class="c" x="750" dy="13">25.00%</tspan></text>
<text class="a" x="990" y="77">258<tspan class="b" x="990" dy="13">198673</tspan><tspan class="c" x="990" dy="13">25.00%</tspan></text>
</g>

<g id="row20" transform="translate(0,2884)">
<use href="#M4" x="31"/><use href="#M4" x="271"/><use href="#M3" x="511"/><use href="#M4" x="691"/><path class="ml" d="M271 0V60M511 0V60M691 0V60"/><rect class="bd" x="31" width="900" height="60"/>
<text class="ts" x="516" y="26">3</text><text class="ts" x="516" y="56">4</text><text class="ts" x="696" y="26">4</text><text class="ts" x="696" y="56">4</text>
<rect x="31" y="11.5" width="37" height="7" fill="#ff0000"/><rect x="271" y="11.5" width="36" height="7" fill="#ff0000"/>
<use href="#R" x="31"/><use href="#O" x="76"/><use href="#R" x="91"/><use href="#R" x="121"/><use href="#R" x="151"/><use href="#G" x="106"/><use href="#Y" x="166"/><use href="#Y" x="181"/><use href="#Y" x="196"/><use href="#Y" x="211"/><use href="#Y" x="226"/><use href="#G" x="241"/>
<use href="#R" x="271"/><use href="#O" x="316"/><use href="#R" x="331"/><use href="#R" x="361"/><use href="#R" x="391"/><use href="#G" x="346"/><use href="#Y" x="406"/><use href="#Y" x="436"/><use href="#Y" x="451"/><use href="#G" x="481"/>
<use href="#B" x="511"/><use href="#B" x="521"/><use href="#B" x="530"/><use href="#B" x="541"/><use href="#B" x="559"/><use href="#B" x="571"/><use href="#B" x="581"/><use href="#B" x="591"/><use href="#B" x="601"/><use href="#O" x="551"/><use href="#O" x="616"/>
<use href="#R" x="691"/><use href="#R" x="710"/><use href="#R" x="731"/><use href="#R" x="751"/><use href="#R" x="811"/><use href="#R" x="829"/><use href="#R" x="851"/><use href="#R" x="871"/><use href="#R" x="901"/>
<use href="#B" x="691"/><use href="#B" x="710"/><use href="#B" x="731"/><use href="#B" x="751"/><use href="#B" x="811"/><use href="#B" x="829"/><use href="#B" x="851"/><use href="#B" x="871"/><use href="#B" x="901"/>
<rect class="bO" x="434" width="497" height="60"/>
<text class="t" x="31" y="-20">♩=96</text><text class="t" x="271" y="-20">♩=99</text><text class="t" x="511" y="-20">♩=141</text><text class="t" x="631" y="-20">♩=161</text><text class="t" x="691" y="-20">♩=126</text><text class="t" x="811" y="-20">♩=146</text><text class="t" x="871" y="-20">♩=96</text>
<text class="m" x="31" y="-8">77</text><text class="m" x="271" y="-8">78</text><text class="m" x="511" y="-8">79</text><text class="m" x="691" y="-8">80</text>
<text class="a" x="270" y="77">308<tspan class="b" x="270" dy="13">199905</tspan><tspan class="c" x="270" dy="13">25.00%</tspan></text>
<text class="a" x="510" y="77">258<tspan class="b" x="510" dy="13">201237</tspan><tspan class="c" x="510" dy="13">21.07%</tspan></text>
<text class="a" x="690" y="77">275<tspan class="b" x="690" dy="13">203437</tspan><tspan class="c" x="690" dy="13">11.70%</tspan></text>
<text class="a" x="930" y="77">450<tspan class="b" x="930" dy="13">207037</tspan><tspan class="c" x="930" dy="13">0.00%</tspan></text>
</g>

<g id="row21" transform="translate(0,3025)">
<use href="#M4" x="31"/><use href="#M4" x="271"/><use href="#M8" x="511"/><use href="#M8" x="691"/><path class="ml" d="M271 0V60M511 0V60M691 0V60"/><rect class="bd" x="31" width="840" height="60"/>
<text class="ts" x="516" y="26">6</text><text class="ts" x="516" y="56">8</text>
<rect x="31" y="11.5" width="52" height="7" fill="#ff0000"/><rect x="31" y="41.5" width="52" height="7" fill="#0000ff"/><rect x="91" y="56.5" width="52" height="7" fill="#ffa500"/>
<use href="#R" x="31"/><use href="#B" x="31"/><use href="#O" x="91"/><use href="#R" x="151"/><use href="#B" x="151"/>
<use href="#G" x="181"/><use href="#G" x="200"/><use href="#G" x="211"/><use href="#G" x="221"/><use href="#G" x="231"/><use href="#G" x="241"/><use href="#G" x="251"/><use href="#G" x="261"/>
<use href="#sG" x="271"/><use href="#sG" x="281"/><use href="#sG" x="291"/><use href="#sG" x="301"/><use href="#sG" x="311"/><use href="#sG" x="321"/><use href="#sG" x="331"/><use href="#sG" x="341"/><use href="#sG" x="351"/><use href="#sG" x="361"/><use href="#sG" x="371"/><use href="#sG" x="381"/><use href="#sG" x="391"/><use href="#sG" x="401"/><use href="#sG" x="411"/><use href="#sG" x="421"/><use href="#sG" x="431"/><use href="#sG" x="441"/><use href="#sG" x="451"/><use href="#sG" x="461"/><use href="#sG" x="471"/><use href="#sG" x="481"/><use href="#sG" x="491"/><use href="#sG" x="501"/>
<rect class="bO" x="31" width="463" height="60"/><rect class="gO" x="271" width="229" height="60"/>
<use href="#G" x="511"/><use href="#G" x="541"/><use href="#Y" x="556"/><use href="#Y" x="586"/><use href="#R" x="571"/><use href="#O" x="601"/>
<use href="#G" x="691"/><use href="#G" x="721"/><use href="#Y" x="736"/><use href="#Y" x="766"/><use href="#R" x="751"/><use href="#O" x="781"/>
<text class="t" x="31" y="-20">♩=115</text><text class="t" x="91" y="-20">♩=109</text><text class="t" x="151" y="-20">♩=114</text><text class="t" x="211" y="-20">♩=108</text><text class="t" x="271" y="-20">♩=109</text><text class="t" x="331" y="-20">♩=115</text><text class="t" x="391" y="-20">♩=107</text><text class="t" x="451" y="-20">♩=101</text><text class="t" x="511" y="-20">♩=91</text><text class="t" x="601" y="-20">♩=85</text><text class="t" x="691" y="-20">♩=90</text>
<text class="m" x="31" y="-8">81</text><text class="m" x="271" y="-8">82</text><text class="m" x="511" y="-8">83</text><text class="m" x="691" y="-8">84</text>
<text class="a" x="270" y="77">358<tspan class="b" x="270" dy="13">209901</tspan><tspan class="c" x="270" dy="13">0.00%</tspan></text>
<text class="a" x="510" y="77">600<tspan class="b" x="510" dy="13">214601</tspan><tspan class="c" x="510" dy="13">25.00%</tspan></text>
<text class="a" x="690" y="77">150<tspan class="b" x="690" dy="13">215201</tspan><tspan class="c" x="690" dy="13">25.00%</tspan></text>
<text class="a" x="870" y="77">150<tspan class="b" x="870" dy="13">215801</tspan><tspan class="c" x="870" dy="13">25.00%</tspan></text>
</g>

<g id="row22" transform="translate(0,3166)">
<rect class="yl" x="751" y="-11" width="90" height="11"/><rect class="yl" x="751" y="61" width="90" height="11"/>
<use href="#G88"/><rect class="bd" x="31" width="900" height="60"/>
<use href="#P8" x="31"/><use href="#P8" x="211"/><use href="#P8" x="391"/><use href="#P8" x="571"/>
<use href="#sP8" x="751"/>
<rect class="gO" x="751" width="90" height="60"/>
<text class="t" x="31" y="-20">♩=89</text><text class="t" x="211" y="-20">♩=89</text><text class="t" x="391" y="-20">♩=90</text><text class="t" x="571" y="-20">♩=89</text><text class="t" x="751" y="-20">♩=88</text>
<text class="m" x="31" y="-8">85</text><text class="m" x="211" y="-8">86</text><text class="m" x="391" y="-8">87</text><text class="m" x="571" y="-8">88</text><text class="m" x="751" y="-8">89</text>
<text class="a" x="210" y="77">150<tspan class="b" x="210" dy="13">216401</tspan><tspan class="c" x="210" dy="13">25.00%</tspan></text>
<text class="a" x="390" y="77">150<tspan class="b" x="390" dy="13">217001</tspan><tspan class="c" x="390" dy="13">25.00%</tspan></text>
<text class="a" x="570" y="77">150<tspan class="b" x="570" dy="13">217601</tspan><tspan class="c" x="570" dy="13">25.00%</tspan></text>
<text class="a" x="750" y="77">150<tspan class="b" x="750" dy="13">218201</tspan><tspan class="c" x="750" dy="13">25.00%</tspan></text>
<text class="a" x="930" y="77">150<tspan class="b" x="930" dy="13">218801</tspan><tspan class="c" x="930" dy="13">50.00%</tspan></text>
</g>

<g id="row23" transform="translate(0,3307)">
<use href="#G88"/><rect class="bd" x="31" width="900" height="60"/>
<use href="#P8" x="31"/><use href="#P8" x="211"/><use href="#B" x="331"/><use href="#G" x="361"/>
<use href="#R" x="391"/><use href="#R" x="421"/><use href="#Y" x="436"/><use href="#O" x="466"/><use href="#O" x="481"/><use href="#O" x="511"/><use href="#Y" x="526"/><use href="#Y" x="556"/>
<use href="#P8" x="571"/><use href="#P8" x="751"/>
<text class="t" x="31" y="-20">♩=91</text><text class="t" x="211" y="-20">♩=88</text><text class="t" x="391" y="-20">♩=89</text><text class="t" x="571" y="-20">♩=88</text><text class="t" x="751" y="-20">♩=90</text>
<text class="m" x="31" y="-8">90</text><text class="m" x="211" y="-8">91</text><text class="m" x="391" y="-8">92</text><text class="m" x="571" y="-8">93</text><text class="m" x="751" y="-8">94</text>
<text class="a" x="210" y="77">150</text><text class="a" x="390" y="77">200</text><text class="a" x="570" y="77">200</text><text class="a" x="750" y="77">150</text><text class="a" x="930" y="77">150</text>
</g>

<g id="row24" transform="translate(0,3448)">
<rect class="yl" x="751" y="-11" width="90" height="11"/><rect class="yl" x="751" y="61" width="90" height="11"/>
<use href="#G88"/><rect class="bd" x="31" width="900" height="60"/>
<use href="#P8" x="31"/><use href="#P8" x="211"/><use href="#P8" x="391"/><use href="#P8" x="571"/><use href="#sP8" x="751"/>
<rect class="gO" x="751" width="90" height="60"/>
<text class="m" x="31" y="-8">95</text><text class="m" x="211" y="-8">96</text><text class="m" x="391" y="-8">97</text><text class="m" x="571" y="-8">98</text><text class="m" x="751" y="-8">99</text></g>
<g id="row25" transform="translate(0,3589)"><use href="#G88"/><rect class="bd" x="31" width="900" height="60"/>
<use href="#P8" x="31"/><use href="#P8" x="211"/><use href="#P8" x="391"/><use href="#P8" x="571"/><use href="#P8" x="751"/>
<text class="m" x="31" y="-8">100</text><text class="m" x="211" y="-8">101</text><text class="m" x="391" y="-8">102</text><text class="m" x="571" y="-8">103</text><text class="m" x="751" y="-8">104</text></g>
<g id="row26" transform="translate(0,3730)"><use href="#G88"/><rect class="bd" x="31" width="900" height="60"/>
<use href="#P8" x="31"/><use href="#P8" x="211"/><use href="#P8" x="391"/><use href="#P8" x="571"/><use href="#P8" x="751"/>
<text class="m" x="31" y="-8">105</text><text class="m" x="211" y="-8">106</text><text class="m" x="391" y="-8">107</text><text class="m" x="571" y="-8">108</text><text class="m" x="751" y="-8">109</text></g>
<g id="row27" transform="translate(0,3871)"><use href="#G88"/><rect class="bd" x="31" width="900" height="60"/>
<use href="#P8" x="31"/><use href="#P8" x="211"/><use href="#CR" x="391"/><use href="#CR" x="571"/><use href="#CR" x="751"/>
<rect class="pk" x="350" width="4" height="60"/><rect class="bO" x="354" width="577" height="60"/><rect class="gO" x="354" width="186" height="60"/>
<text class="m" x="31" y="-8">110</text><text class="m" x="211" y="-8">111</text><text class="m" x="391" y="-8">112</text><text class="m" x="571" y="-8">113</text><text class="m" x="751" y="-8">114</text></g>
<g id="row28" transform="translate(0,4012)"><use href="#G88"/><rect class="bd" x="31" width="900" height="60"/>
<use href="#CR" x="31"/><use href="#CR" x="211"/><use href="#CR" x="391"/><use href="#CR" x="571"/><use href="#CR" x="751"/>
<rect class="bO" x="31" width="900" height="60"/>
<text class="m" x="31" y="-8">115</text><text class="m" x="211" y="-8">116</text><text class="m" x="391" y="-8">117</text><text class="m" x="571" y="-8">118</text><text class="m" x="751" y="-8">119</text></g>
<g id="row29" transform="translate(0,4153)"><use href="#G88"/><rect class="bd" x="31" width="900" height="60"/>
<use href="#CH" x="31"/><use href="#CH" x="211"/><use href="#CH" x="391"/><use href="#CH" x="571"/><use href="#CH" x="751"/>
<rect class="bO" x="31" width="900" height="60"/>
<text class="m" x="31" y="-8">120</text><text class="m" x="211" y="-8">121</text><text class="m" x="391" y="-8">122</text><text class="m" x="571" y="-8">123</text><text class="m" x="751" y="-8">124</text></g>
<g id="row30" transform="translate(0,4294)"><use href="#G88"/><rect class="bd" x="31" width="900" height="60"/>
<use href="#CR" x="31"/><use href="#CR" x="211"/><use href="#CR" x="391"/><use href="#CR" x="571"/><use href="#CR" x="751"/>
<rect class="bO" x="31" width="900" height="60"/>
<text class="m" x="31" y="-8">125</text><text class="m" x="211" y="-8">126</text><text class="m" x="391" y="-8">127</text><text class="m" x="571" y="-8">128</text><text class="m" x="751" y="-8">129</text></g>
<g id="row31" transform="translate(0,4435)"><use href="#G88"/><rect class="bd" x="31" width="900" height="60"/>
<use href="#o8" x="31"/><use href="#o8" x="91"/><use href="#o8" x="151"/><use href="#o8" x="211"/><use href="#o8" x="271"/><use href="#o8" x="331"/><use href="#o8" x="391"/><use href="#o8" x="451"/><use href="#o8" x="511"/><use href="#o8" x="571"/><use href="#o8" x="631"/><use href="#o8" x="691"/><use href="#o8" x="751"/><use href="#o8" x="811"/><use href="#o8" x="871"/>
<use href="#Y" x="31"/><use href="#Y" x="121"/><use href="#Y" x="211"/><use href="#Y" x="301"/><use href="#Y" x="391"/><use href="#Y" x="481"/><use href="#Y" x="571"/><use href="#Y" x="661"/><use href="#Y" x="751"/><use href="#Y" x="841"/>
<text class="m" x="31" y="-8">130</text><text class="m" x="211" y="-8">131</text><text class="m" x="391" y="-8">132</text><text class="m" x="571" y="-8">133</text><text class="m" x="751" y="-8">134</text></g>
<g id="row32" transform="translate(0,4576)"><use href="#G88"/><rect class="bd" x="31" width="900" height="60"/>
<use href="#CH" x="31"/><use href="#CH" x="211"/><use href="#CH" x="391"/><use href="#CH" x="571"/><use href="#CH" x="751"/>
<rect class="bO" x="31" width="900" height="60"/>
<text class="m" x="31" y="-8">135</text><text class="m" x="211" y="-8">136</text><text class="m" x="391" y="-8">137</text><text class="m" x="571" y="-8">138</text><text class="m" x="751" y="-8">139</text></g>
<g id="row33" transform="translate(0,4717)"><use href="#G88"/><rect class="bd" x="31" width="900" height="60"/>
<use href="#P8" x="31"/><use href="#P8" x="211"/><use href="#P8" x="391"/><use href="#P8" x="571"/><use href="#P8" x="751"/>
<rect class="bO" x="31" width="900" height="60"/><rect class="gO" x="751" width="180" height="60"/>
<text class="m" x="31" y="-8">140</text><text class="m" x="211" y="-8">141</text><text class="m" x="391" y="-8">142</text><text class="m" x="571" y="-8">143</text><text class="m" x="751" y="-8">144</text></g>

<g id="row34" transform="translate(0,4858)">
<use href="#G88"/><rect class="bd" x="31" width="900" height="60"/>
<rect x="391" y="26.5" width="540" height="7" fill="#ffff00"/>
<use href="#Y" x="31"/><use href="#Y" x="61"/><use href="#Y" x="76"/><use href="#Y" x="91"/><use href="#Y" x="106"/><use href="#Y" x="121"/><use href="#Y" x="151"/><use href="#Y" x="166"/><use href="#Y" x="181"/><use href="#Y" x="196"/><use href="#Y" x="211"/><use href="#Y" x="241"/><use href="#Y" x="256"/><use href="#Y" x="271"/><use href="#Y" x="286"/><use href="#Y" x="301"/><use href="#Y" x="331"/><use href="#Y" x="361"/><use href="#Y" x="376"/><use href="#Y" x="391"/>
<use href="#O" x="31"/><use href="#O" x="61"/><use href="#O" x="76"/><use href="#O" x="91"/><use href="#O" x="106"/><use href="#O" x="121"/><use href="#O" x="151"/><use href="#O" x="166"/><use href="#O" x="181"/><use href="#O" x="196"/><use href="#O" x="211"/><use href="#O" x="241"/><use href="#O" x="256"/><use href="#O" x="271"/><use href="#O" x="286"/><use href="#O" x="301"/><use href="#O" x="331"/><use href="#O" x="361"/><use href="#O" x="376"/>
<rect class="bO" x="31" width="269" height="60"/><rect class="pk" x="300" width="3" height="60"/>
<text class="m" x="31" y="-8">145</text><text class="m" x="211" y="-8">146</text><text class="m" x="391" y="-8">147</text><text class="m" x="571" y="-8">148</text><text class="m" x="751" y="-8">149</text>
<text class="a" x="210" y="77">500<tspan class="b" x="210" dy="13">390201</tspan><tspan class="c" x="210" dy="13">0.00%</tspan></text>
<text class="a" x="390" y="77">450<tspan class="b" x="390" dy="13">393201</tspan><tspan class="c" x="390" dy="13">0.00%</tspan></text>
<text class="a" x="570" y="77">122<tspan class="b" x="570" dy="13">393689</tspan><tspan class="c" x="570" dy="13">0.00%</tspan></text>
<text class="a" x="750" y="77">72<tspan class="b" x="750" dy="13">393977</tspan><tspan class="c" x="750" dy="13">0.00%</tspan></text>
<text class="a" x="930" y="77">72<tspan class="b" x="930" dy="13">394265</tspan><tspan class="c" x="930" dy="13">0.00%</tspan></text>
</g>

<g id="row35" transform="translate(0,4999)">
<use href="#G88"/><rect class="bd" x="31" width="900" height="60"/>
<rect x="31" y="-3.5" width="900" height="7" fill="#00ff00"/><rect x="31" y="26.5" width="900" height="7" fill="#ffff00"/>
<text class="m" x="31" y="-8">150</text><text class="m" x="211" y="-8">151</text><text class="m" x="391" y="-8">152</text><text class="m" x="571" y="-8">153</text><text class="m" x="751" y="-8">154</text>
<text class="a" x="210" y="77">72<tspan class="b" x="210" dy="13">394553</tspan><tspan class="c" x="210" dy="13">0.00%</tspan></text>
<text class="a" x="390" y="77">72<tspan class="b" x="390" dy="13">394841</tspan><tspan class="c" x="390" dy="13">0.00%</tspan></text>
<text class="a" x="570" y="77">72<tspan class="b" x="570" dy="13">395129</tspan><tspan class="c" x="570" dy="13">0.00%</tspan></text>
<text class="a" x="750" y="77">72<tspan class="b" x="750" dy="13">395417</tspan><tspan class="c" x="750" dy="13">0.00%</tspan></text>
<text class="a" x="930" y="77">72<tspan class="b" x="930" dy="13">395705</tspan><tspan class="c" x="930" dy="13">0.00%</tspan></text>
</g>

<g id="row36" transform="translate(0,5140)">
<use href="#M8" x="31"/><use href="#M8" x="211"/><use href="#M8" x="391"/><use href="#M8" x="571"/><path class="ml" d="M211 0V60M391 0V60M571 0V60"/><rect class="bd" x="31" width="720" height="60"/>
<rect x="31" y="-3.5" width="719" height="7" fill="#00ff00"/><rect x="31" y="26.5" width="719" height="7" fill="#ffff00"/>
<text class="m" x="31" y="-8">155</text><text class="m" x="211" y="-8">156</text><text class="m" x="391" y="-8">157</text><text class="m" x="571" y="-8">158</text>
<text class="a" x="210" y="77">72<tspan class="b" x="210" dy="13">395993</tspan><tspan class="c" x="210" dy="13">0.00%</tspan></text>
<text class="a" x="390" y="77">72<tspan class="b" x="390" dy="13">396281</tspan><tspan class="c" x="390" dy="13">0.00%</tspan></text>
<text class="a" x="570" y="77">72<tspan class="b" x="570" dy="13">396569</tspan><tspan class="c" x="570" dy="13">0.00%</tspan></text>
<text class="a" x="750" y="77">72<tspan class="b" x="750" dy="13">396857</tspan><tspan class="c" x="750" dy="13">0.00%</tspan></text>
</g>
</g>
</svg>
